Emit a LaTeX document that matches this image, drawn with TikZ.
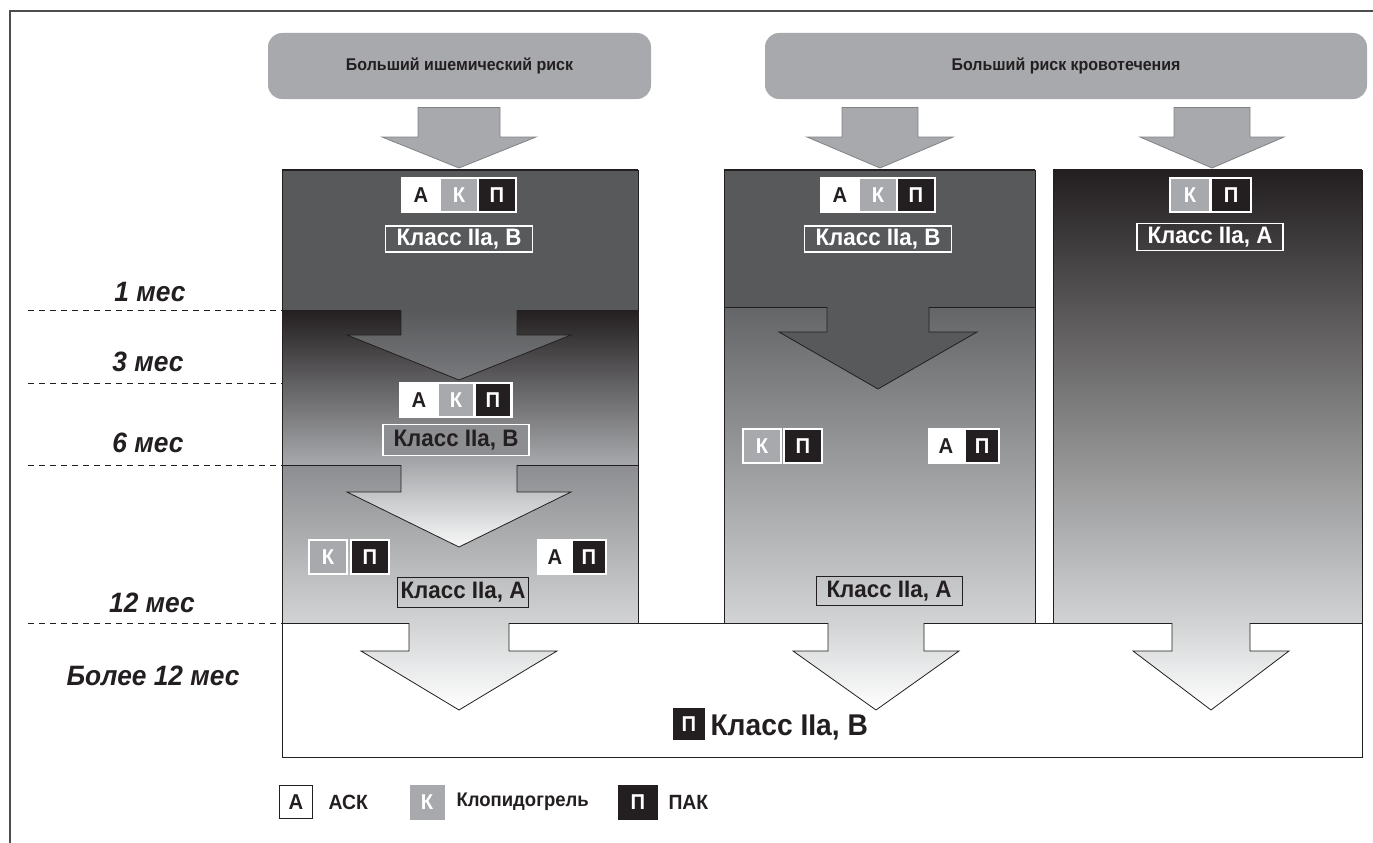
\documentclass[tikz,border=0pt]{standalone}
\usepackage{fontspec}
\setmainfont{Liberation Sans}[FakeStretch=0.94]
\usetikzlibrary{positioning}
\definecolor{cInk}{HTML}{231F20}
\definecolor{cDark}{HTML}{58595B}
\definecolor{cHead}{HTML}{A7A9AC}
\definecolor{cRim}{HTML}{808285}
\definecolor{cPale}{HTML}{D1D3D4}
\tikzstyle{header}=[rectangle,rounded corners=14pt,fill=cHead,minimum height=66pt,text=cInk,font=\bfseries\fontsize{17}{20}\selectfont]
\tikzstyle{cell}=[rectangle,draw=white,line width=2.5pt,minimum width=38pt,minimum height=34pt,inner sep=0pt,font=\bfseries\fontsize{21.5}{25}\selectfont]
\tikzstyle{cellA}=[cell,fill=white,text=cInk]
\tikzstyle{cellK}=[cell,fill=cHead,text=white]
\tikzstyle{cellP}=[cell,fill=cInk,text=white]
\tikzstyle{classW}=[rectangle,draw=white,line width=1.2pt,text=white,minimum width=147pt,minimum height=26pt,inner sep=0pt,font=\bfseries\fontsize{23.8}{27}\selectfont]
\tikzstyle{classG}=[classW,fill=cRim!90!white,text=cInk,minimum height=31pt,minimum width=146pt]
\tikzstyle{classD}=[classW,draw=cInk,line width=0.9pt,text=cInk,minimum height=30pt]
\tikzstyle{timelabel}=[text=cInk,font=\bfseries\itshape\fontsize{28}{32}\selectfont]
\tikzstyle{timeline}=[draw=cInk,line width=0.8pt,dash pattern=on 6pt off 5pt]
\tikzstyle{arrowedge}=[draw=cInk,line width=0.8pt]
\tikzstyle{coledge}=[draw=cInk,line width=0.9pt]
\tikzstyle{legtext}=[anchor=west,text=cInk,font=\bfseries\fontsize{20.6}{24}\selectfont]
\newcommand{\blockarrow}[8]{%
  \path[#7] ({#1-#2},#4) -- ({#1-#2},#5) -- ({#1-#3},#5) -- (#1,#6) -- ({#1+#3},#5) -- ({#1+#2},#5) -- ({#1+#2},#4) -- cycle;
  \draw[#8] ({#1-#2},#4) -- ({#1-#2},#5) -- ({#1-#3},#5) -- (#1,#6) -- ({#1+#3},#5) -- ({#1+#2},#5) -- ({#1+#2},#4);
}

\begin{document}
\begin{tikzpicture}[x=1pt,y=-1pt]
\useasboundingbox (0,0) rectangle (1373,843);
\draw[cInk!80,line width=1.5pt] (1373,11) -- (10,11) -- (10,843);

\node[header,minimum width=383pt] (ischemia) at (459.5,66) {Больший ишемический риск};
\node[header,minimum width=602pt] (bleeding) at (1066,66) {Больший риск кровотечения};

\blockarrow{459}{41}{77}{107}{137}{168}{fill=cHead}{draw=cRim,line width=0.8pt}
\blockarrow{880}{38}{73}{107}{137}{168}{fill=cHead}{draw=cRim,line width=0.8pt}
\blockarrow{1212}{38}{72}{107}{137}{168}{fill=cHead}{draw=cRim,line width=0.8pt}
\draw[cRim,line width=0.8pt] (418,107) -- (500,107) (842,107) -- (918,107) (1174,107) -- (1250,107);

\fill[cDark] (282,170) rectangle (638,310);
\shade[top color=cInk,middle color=cInk!35!cHead,bottom color=cHead] (282,310) rectangle (638,465);
\shade[top color=cRim!70!cHead,bottom color=cPale] (282,465) rectangle (638,623);
\fill[cDark] (724,170) rectangle (1035,307);
\shade[top color=cDark!70!cRim,bottom color=cPale] (724,307) rectangle (1035,623);
\shade[top color=cInk,bottom color=cPale] (1053,170) rectangle (1362,623);

\blockarrow{459}{58}{112}{310}{335}{380}{top color=cDark,bottom color=cRim!80!cDark}{arrowedge}
\blockarrow{459}{58}{112}{465}{492}{547}{top color=cHead,bottom color=white!92!cHead}{arrowedge}
\blockarrow{878}{51}{99}{307}{332}{389}{fill=cDark}{arrowedge}
\blockarrow{459}{50}{98}{623}{651}{710}{top color=cPale,bottom color=white}{arrowedge}
\blockarrow{876}{48}{83}{623}{651}{710}{top color=cPale,bottom color=white}{arrowedge}
\blockarrow{1211}{39}{78}{623}{651}{710}{top color=cPale,bottom color=white}{arrowedge}

\draw[coledge] (282,623) -- (282,170) (638,170) -- (638,623);
\draw[coledge] (724,623) -- (724,170) (1035,170) -- (1035,623);
\draw[coledge] (1053,623) -- (1053,170) (1362,170) -- (1362,623);
\draw[cInk,line width=2pt] (282,170) -- (638,170) (724,170) -- (1035,170) (1053,170) -- (1362,170);
\draw[coledge] (282,465) -- (401,465) (517,465) -- (638,465);
\draw[coledge] (724,307) -- (827,307) (929,307) -- (1035,307);
\draw[coledge] (282,623) -- (282,757) -- (1362,757) -- (1362,623);
\draw[coledge] (282,623) -- (409,623) (509,623) -- (828,623) (924,623) -- (1172,623) (1250,623) -- (1362,623);

\node[cellA] (a1) at (421,195) {А};
\node[cellK] (k1) at (459,195) {К};
\node[cellP] (p1) at (497,195) {П};
\node[classW] (c1) at (459,239) {Класс IIa, B};
\node[cellA,minimum width=37pt] (a2) at (419,400) {А};
\node[cellK,minimum width=37pt] (k2) at (456,400) {К};
\node[cellP,minimum width=37pt] (p2) at (493,400) {П};
\node[classG] (c2) at (456,440) {Класс IIa, B};
\node[cellK] (k3) at (328,557) {К};
\node[cellP] (p3) at (370,557) {П};
\node[cellA,minimum width=34pt] (a4) at (555,557) {А};
\node[cellP,minimum width=34pt] (p4) at (589,557) {П};
\node[classD,minimum width=131pt] (c3) at (463,592) {Класс IIa, A};

\node[cellA] (a5) at (840,195) {А};
\node[cellK] (k5) at (878,195) {К};
\node[cellP] (p5) at (916,195) {П};
\node[classW] (c5) at (878,239) {Класс IIa, B};
\node[cellK] (k6) at (762,446) {К};
\node[cellP] (p6) at (803,446) {П};
\node[cellA,minimum width=34pt] (a7) at (946,446) {А};
\node[cellP,minimum width=34pt] (p7) at (982,446) {П};
\node[classD,minimum width=146pt,minimum height=29pt] (c6) at (889,591) {Класс IIa, A};

\node[cellK,minimum width=40pt] (k8) at (1190,195) {К};
\node[cellP,minimum width=40pt] (p8) at (1231,195) {П};
\node[classW,minimum width=146pt,minimum height=27pt] (c8) at (1210,237) {Класс IIa, A};

\node[cellP,minimum width=34pt,minimum height=35pt] (pfin) at (689,724) {П};
\node[anchor=west,text=cInk,font=\bfseries\fontsize{30}{34}\selectfont] (cfin) at (707,727) {Класс IIa, B};

\node[timelabel] (t1) at (150,292) {1 мес};
\node[timelabel] (t3) at (148,362) {3 мес};
\node[timelabel] (t6) at (148,443) {6 мес};
\node[timelabel] (t12) at (152,603) {12 мес};
\node[timelabel] (tmore) at (153,676) {Более 12 мес};
\coordinate (l1a) at (28,310); \coordinate (l1b) at (282,310);
\coordinate (l3a) at (28,383); \coordinate (l3b) at (282,383);
\coordinate (l6a) at (28,465); \coordinate (l6b) at (282,465);
\coordinate (l12a) at (28,623); \coordinate (l12b) at (282,623);
\draw[timeline] (l1a) -- (l1b);
\draw[timeline] (l3a) -- (l3b);
\draw[timeline] (l6a) -- (l6b);
\draw[timeline] (l12a) -- (l12b);

\node[cell,draw=cInk,line width=1pt,fill=white,text=cInk,minimum width=33pt,minimum height=33pt] (legA) at (296,802) {А};
\node[legtext] (legAt) at (325,802) {АСК};
\node[cellK,draw=none,minimum width=35pt,minimum height=35pt] (legK) at (427,802) {К};
\node[legtext,font=\bfseries\fontsize{19.7}{23}\selectfont] (legKt) at (453,802) {Клопидогрель};
\node[cellP,draw=none,minimum width=40pt,minimum height=35pt] (legP) at (638,802) {П};
\node[legtext] (legPt) at (665,802) {ПАК};
\end{tikzpicture}
\end{document}
